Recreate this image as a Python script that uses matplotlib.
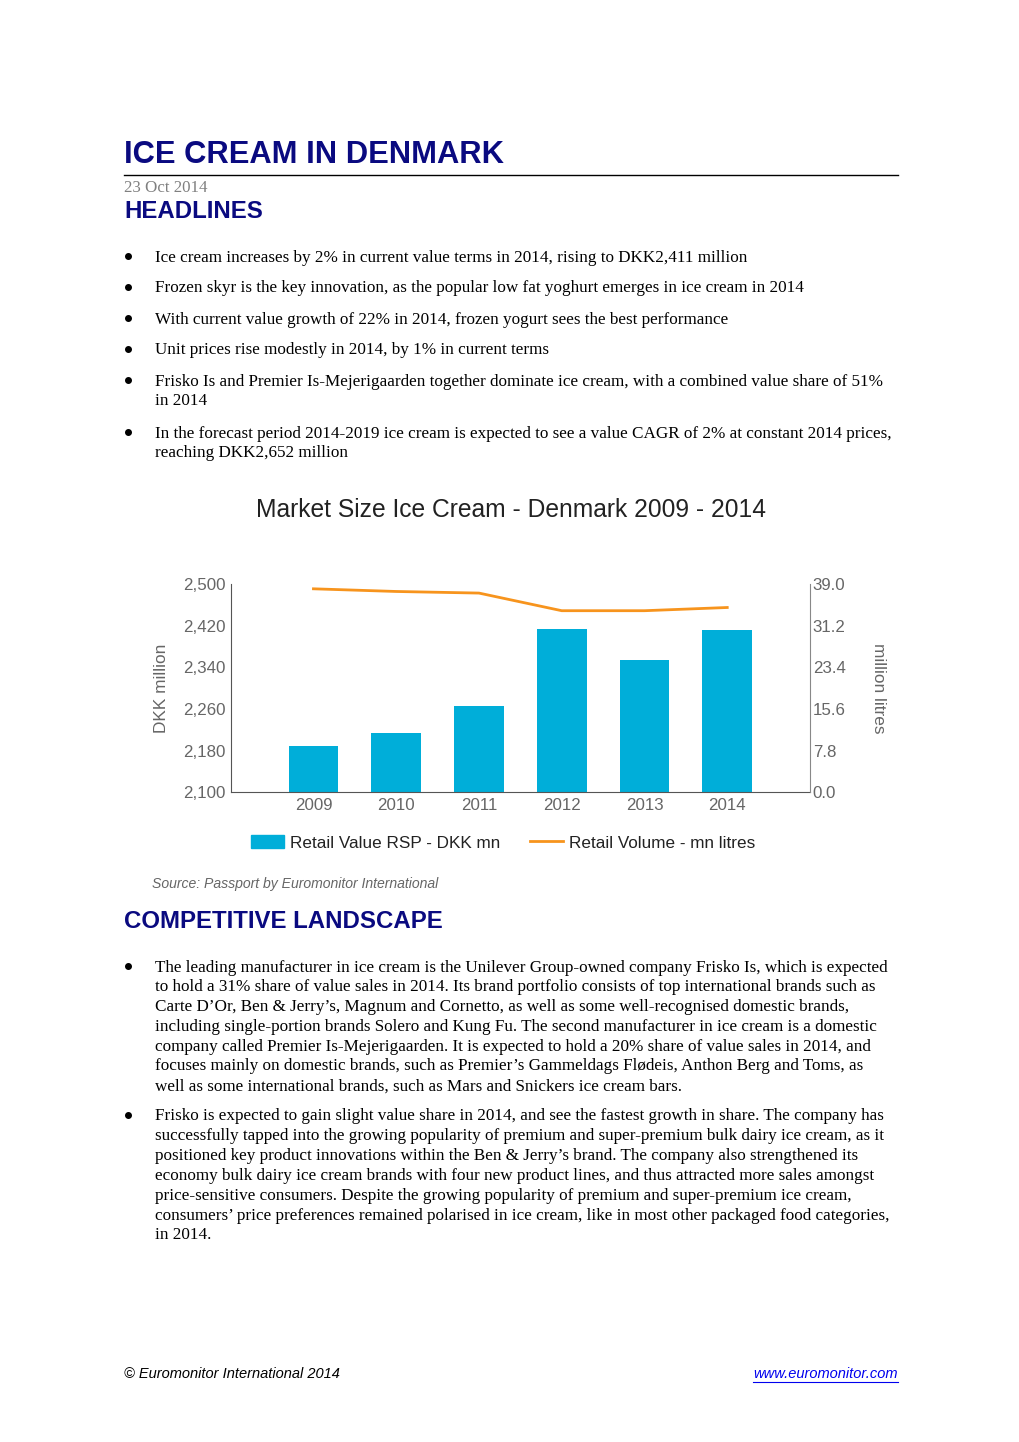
import matplotlib

matplotlib.use("Agg")
import matplotlib.pyplot as plt
from matplotlib.patches import Patch
from matplotlib.lines import Line2D
from matplotlib.ticker import FuncFormatter

NAVY = "#0a0a80"
BAR_BLUE = "#00aed9"
LINE_ORANGE = "#f7941d"
TICK_GRAY = "#666666"
AXIS_GRAY = "#888888"

years = ["2009", "2010", "2011", "2012", "2013", "2014"]
retail_value = [2189, 2213, 2266, 2413, 2354, 2411]  # DKK mn
retail_volume = [38.1, 37.6, 37.3, 34.0, 34.0, 34.6]  # mn litres
left_ticks = [2100, 2180, 2260, 2340, 2420, 2500]
right_ticks = [0.0, 7.8, 15.6, 23.4, 31.2, 39.0]

headlines = [
    ["Ice cream increases by 2% in current value terms in 2014, rising to DKK2,411 million"],
    ["Frozen skyr is the key innovation, as the popular low fat yoghurt emerges in ice cream in 2014"],
    ["With current value growth of 22% in 2014, frozen yogurt sees the best performance"],
    ["Unit prices rise modestly in 2014, by 1% in current terms"],
    ["Frisko Is and Premier Is-Mejerigaarden together dominate ice cream, with a combined value share of 51%",
     "in 2014"],
    ["In the forecast period 2014-2019 ice cream is expected to see a value CAGR of 2% at constant 2014 prices,",
     "reaching DKK2,652 million"],
]
headline_y = [256, 287, 318, 349, 380, 432]

landscape = [
    ["The leading manufacturer in ice cream is the Unilever Group-owned company Frisko Is, which is expected",
     "to hold a 31% share of value sales in 2014. Its brand portfolio consists of top international brands such as",
     "Carte D\u2019Or, Ben & Jerry\u2019s, Magnum and Cornetto, as well as some well-recognised domestic brands,",
     "including single-portion brands Solero and Kung Fu. The second manufacturer in ice cream is a domestic",
     "company called Premier Is-Mejerigaarden. It is expected to hold a 20% share of value sales in 2014, and",
     "focuses mainly on domestic brands, such as Premier\u2019s Gammeldags Fl\u00f8deis, Anthon Berg and Toms, as",
     "well as some international brands, such as Mars and Snickers ice cream bars."],
    ["Frisko is expected to gain slight value share in 2014, and see the fastest growth in share. The company has",
     "successfully tapped into the growing popularity of premium and super-premium bulk dairy ice cream, as it",
     "positioned key product innovations within the Ben & Jerry\u2019s brand. The company also strengthened its",
     "economy bulk dairy ice cream brands with four new product lines, and thus attracted more sales amongst",
     "price-sensitive consumers. Despite the growing popularity of premium and super-premium ice cream,",
     "consumers\u2019 price preferences remained polarised in ice cream, like in most other packaged food categories,",
     "in 2014."],
]
landscape_y = [966, 1115]

W, H = 1020, 1442
fig = plt.figure(figsize=(W / 100, H / 100), dpi=100)

SANS = "Liberation Sans"
SERIF = "Liberation Serif"
BODY = 12.35


def put(x, y, s, **kw):
    # x, y in pixels from the top-left corner of the page
    return fig.text(x / W, 1 - y / H, s, **kw)


def bullet_block(lines, y0, step=19.8):
    fig.add_artist(Line2D([128 / W], [1 - (y0 - 0.5) / H], marker="o", markersize=4.0,
                          color="black", lw=0))
    for i, line in enumerate(lines):
        put(155, y0 + 1.5 + i * step, line, fontsize=BODY, family=SERIF, va="center")


# page header
put(124, 155, "ICE CREAM IN DENMARK", fontsize=22.2, family=SANS, weight="bold", color=NAVY, va="center")
fig.add_artist(Line2D([124 / W, 898 / W], [1 - 174.5 / H, 1 - 174.5 / H], color="black", lw=1))
put(124, 187.5, "23 Oct 2014", fontsize=12.2, family=SERIF, color="#808080", va="center")
put(124, 211, "HEADLINES", fontsize=17.3, family=SANS, weight="bold", color=NAVY, va="center")

for lines, y0 in zip(headlines, headline_y):
    bullet_block(lines, y0)

# chart
put(511, 510, "Market Size Ice Cream - Denmark 2009 - 2014", fontsize=17.7, family=SANS,
    color="#222222", ha="center", va="center")

ax = fig.add_axes([230.7 / W, 1 - 792.3 / H, (810 - 230.7) / W, (792.3 - 584) / H])
x = list(range(len(years)))
ax.bar(x, retail_value, width=0.6, color=BAR_BLUE, zorder=2)
ax.set_xlim(-1, 6)
ax.set_ylim(2100, 2500)
ax.set_yticks(left_ticks)
ax.yaxis.set_major_formatter(FuncFormatter(lambda v, p: f"{v:,.0f}"))
ax.set_xticks(x)
ax.set_xticklabels(years)
ax.set_ylabel("DKK million", fontsize=12.4, color=TICK_GRAY, family=SANS, labelpad=10)

ax2 = ax.twinx()
ax2.plot(x, retail_volume, color=LINE_ORANGE, lw=2, zorder=3)
ax2.set_ylim(0, 39)
ax2.set_yticks(right_ticks)
ax2.yaxis.set_major_formatter(FuncFormatter(lambda v, p: f"{v:.1f}"))
ax2.set_ylabel("million litres", fontsize=12.4, color=TICK_GRAY, family=SANS, rotation=270, labelpad=29)

for a in (ax, ax2):
    a.spines["top"].set_visible(False)
    a.spines["left"].set_color("#555555")
    a.spines["right"].set_color(AXIS_GRAY)
    a.spines["bottom"].set_color("#555555")
    a.tick_params(length=0, labelsize=12.2, labelcolor=TICK_GRAY, pad=4)
    for lab in a.get_xticklabels() + a.get_yticklabels():
        lab.set_family(SANS)
ax.spines["right"].set_visible(False)
ax2.spines["left"].set_visible(False)
ax2.spines["bottom"].set_visible(False)
ax2.tick_params(pad=2)

handles = [
    Patch(facecolor=BAR_BLUE, edgecolor=BAR_BLUE),
    Line2D([], [], color=LINE_ORANGE, lw=2),
]
fig.legend(handles, ["Retail Value RSP - DKK mn", "Retail Volume - mn litres"],
           loc="center", bbox_to_anchor=(503 / W, 1 - 843 / H), ncol=2, frameon=False,
           prop={"family": SANS, "size": 12.3}, labelcolor="#222222",
           handlelength=1.95, handleheight=0.75, columnspacing=1.7, handletextpad=0.35)

put(152, 884.5, "Source: Passport by Euromonitor International", fontsize=10.1, family=SANS,
    style="italic", color="#666666", va="center")

put(124, 921, "COMPETITIVE LANDSCAPE", fontsize=17.3, family=SANS, weight="bold", color=NAVY, va="center")

for lines, y0 in zip(landscape, landscape_y):
    bullet_block(lines, y0)

# footer
put(124, 1374.5, "\u00a9 Euromonitor International 2014", fontsize=10.5, family=SANS, style="italic",
    va="center")
put(898, 1374.5, "www.euromonitor.com", fontsize=10.5, family=SANS, style="italic",
    color="#0000ee", ha="right", va="center")
fig.add_artist(Line2D([753 / W, 898 / W], [1 - 1382 / H, 1 - 1382 / H], color="#0000ee", lw=0.8))

fig.savefig("out.png", dpi=100)
